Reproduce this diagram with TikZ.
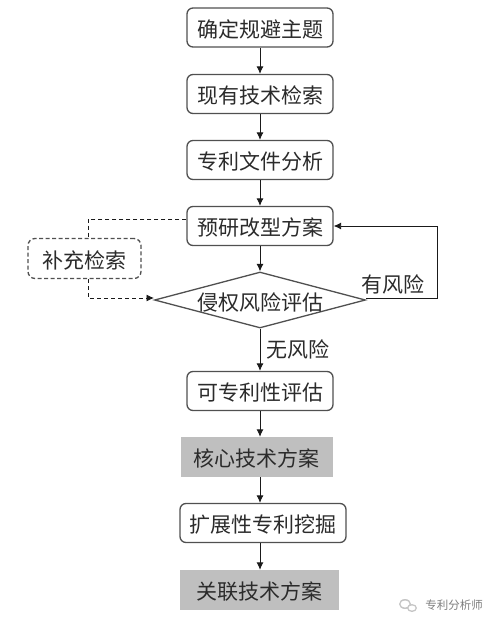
\documentclass[tikz,border=0pt]{standalone}
\usepackage{fontspec}
\setmainfont{Noto Sans CJK SC}
\usetikzlibrary{arrows.meta, calc, shapes.geometric}
\definecolor{lineblack}{HTML}{1A1A1A}
\definecolor{textblack}{HTML}{2B2B2B}
\definecolor{dashgray}{HTML}{505050}
\definecolor{boxgray}{HTML}{BFBFBF}
\definecolor{markgray}{HTML}{7F7F7F}

\begin{document}
\begin{tikzpicture}[x=1pt, y=-1pt,
        every node/.style={font=\fontsize{21pt}{24pt}\selectfont, text=textblack, inner sep=0pt},
        boxtext/.style={text height=20.5pt, text depth=1.5pt},
        roundbox/.style={boxtext, draw=dashgray, line width=1.3pt, rounded corners=6pt, minimum height=39pt, fill=white},
        graybox/.style={boxtext, fill=boxgray, minimum height=40pt},
        checkbox/.style={boxtext, draw=dashgray, line width=1.3pt, dash pattern=on 4pt off 2.5pt, rounded corners=7pt, minimum width=113pt, minimum height=40pt},
        riskshape/.style={draw=dashgray, line width=1.3pt, diamond, aspect=3.77, minimum width=211pt, minimum height=56pt, fill=white},
        flowline/.style={draw=lineblack, line width=0.9pt, -{Latex[length=7.5pt, width=7pt]}},
        dashline/.style={flowline, dash pattern=on 4pt off 3pt}]
    \useasboundingbox (0,0) rectangle (499,627);
    \fill[white] (0,0) rectangle (499,627);

    \node[roundbox, minimum width=146pt] (topic) at (260,27.5) {确定规避主题};
    \node[roundbox, minimum width=146pt] (search) at (260,94) {现有技术检索};
    \node[roundbox, minimum width=146pt] (analysis) at (260,160) {专利文件分析};
    \node[roundbox, minimum width=146pt] (plan) at (260,226) {预研改型方案};
    \node[riskshape] (risk) at (260,300) {};
    \node at (260,302.5) {侵权风险评估};
    \node[roundbox, minimum width=146pt] (patent) at (260,391) {可专利性评估};
    \node[graybox, minimum width=152pt] (core) at (256.5,457) {核心技术方案};
    \node[roundbox, minimum width=166pt] (mining) at (263,523) {扩展性专利挖掘};
    \node[graybox, minimum width=159pt] (related) at (259.5,590) {关联技术方案};
    \node[checkbox] (extra) at (84.5,258.5) {补充检索};

    \node at (393,284) {有风险};
    \node at (298,349) {无风险};

    \draw[flowline] (topic) -- (search);
    \draw[flowline] (search) -- (analysis);
    \draw[flowline] (analysis) -- (plan);
    \draw[flowline] (plan) -- (risk);
    \draw[flowline] (risk) -- (patent);
    \draw[flowline] (patent) -- (core.north -| patent);
    \draw[flowline] (core.south -| patent) -- (mining.north -| patent);
    \draw[flowline] (mining.south -| patent) -- (related.north -| patent);

    \coordinate (loopcorner) at (437,298);
    \draw[flowline] (risk.east) ++(0,-2) -- (loopcorner) -- (loopcorner |- plan.east) -- (plan.east);

    \draw[dashline, -] ($(plan.west)+(0,-7)$) -- (88,219) -- (88,238);
    \draw[dashline] (88,279) -- (88,298) -- (154,298);

    % watermark
    \fill[markgray!45] (405,604) ellipse (6pt and 5pt);
    \fill[white] (405,604) ellipse (4.5pt and 3.5pt);
    \fill[markgray!45] (412,608) ellipse (5pt and 4pt);
    \fill[white] (412,608) ellipse (3.5pt and 2.5pt);
    \node[font=\fontsize{11.5pt}{14pt}\selectfont, text=markgray] (mark) at (454,605) {专利分析师};
\end{tikzpicture}
\end{document}
